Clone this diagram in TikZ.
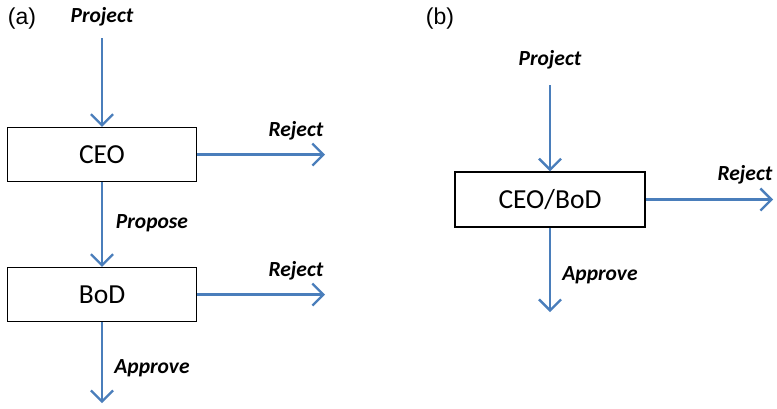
\documentclass[tikz,border=0pt]{standalone}
\usepackage{fontspec}
\setmainfont{Carlito}
\newfontfamily\arialf{Liberation Sans}
\usetikzlibrary{arrows.meta}
\definecolor{arrblue}{HTML}{4A7EBB}
\begin{document}
\begin{tikzpicture}[x=1pt,y=-1pt,
  flow/.style={draw=arrblue,line width=2.3pt,-{Straight Barb[length=11pt,width=22pt,line width=2.3pt]}},
  boxn/.style={draw=black,line width=1.5pt,minimum width=189pt,minimum height=54pt,inner sep=0pt,font=\fontsize{27.5}{30}\selectfont},
  lab/.style={font=\fontsize{21.5}{24}\selectfont\bfseries\itshape,inner sep=0pt},
  panel/.style={font=\arialf\fontsize{23}{26}\selectfont,inner sep=0pt}]
\useasboundingbox (0,0) rectangle (777,408);
% panel (a)
\node[panel] (pa) at (22,19) {(a)};
\node[lab] (pja) at (102,17) {Project};
\node[boxn] (ceo) at (102,154.5) {CEO};
\node[boxn] (bod) at (102,294.5) {BoD};
\coordinate (pjs) at (102,38);
\coordinate (rja) at (325,154.5);
\coordinate (rjb) at (325,294.5);
\coordinate (apa) at (102,403);
\draw[flow] (pjs) -- (ceo.north);
\draw[flow] (ceo.east) -- (rja);
\draw[flow] (ceo.south) -- (bod.north);
\draw[flow] (bod.east) -- (rjb);
\draw[flow] (bod.south) -- (apa);
\node[lab] (lrja) at (296,131) {Reject};
\node[lab] (lpr) at (152,223) {Propose};
\node[lab] (lrjb) at (296,271) {Reject};
\node[lab] (lap) at (152,368) {Approve};
% panel (b)
\node[panel] (pb) at (440,19) {(b)};
\node[lab] (pjb) at (550,60) {Project};
\node[boxn,minimum width=190pt,minimum height=55pt] (cb) at (550,199.5) {CEO/BoD};
\coordinate (pjbs) at (550,85);
\coordinate (rjc) at (773,199.5);
\coordinate (apb) at (550,312);
\draw[flow] (pjbs) -- (cb.north);
\draw[flow] (cb.east) -- (rjc);
\draw[flow] (cb.south) -- (apb);
\node[lab] (lrjc) at (745,175) {Reject};
\node[lab] (lapb) at (600,275) {Approve};
\end{tikzpicture}
\end{document}
